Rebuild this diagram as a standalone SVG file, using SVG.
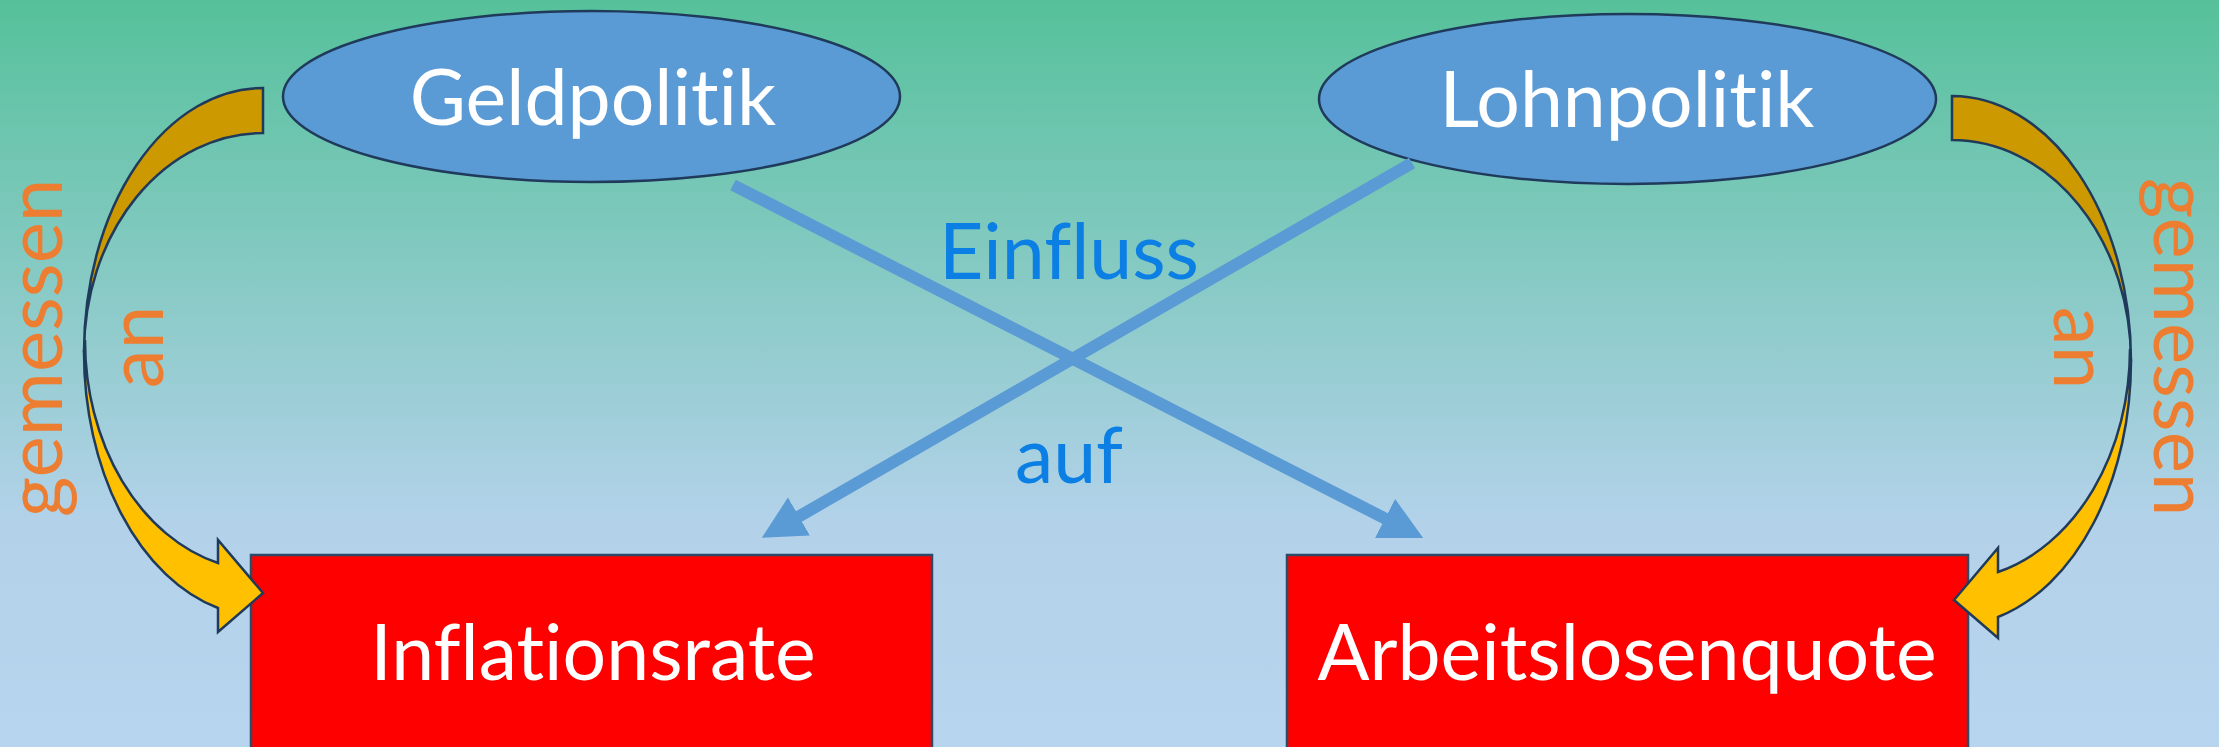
<svg xmlns="http://www.w3.org/2000/svg" width="2219" height="747" viewBox="0 0 2219 747">
  <defs>
    <linearGradient id="bg" x1="0" y1="0" x2="0" y2="1">
      <stop offset="0" stop-color="#55C19A"/>
      <stop offset="0.70" stop-color="#B3D2EA"/>
      <stop offset="1" stop-color="#B7D5EE"/>
    </linearGradient>
    <marker id="ah" markerUnits="userSpaceOnUse" markerWidth="44" markerHeight="44" viewBox="0 0 40 40" refX="1" refY="20" orient="auto">
      <path d="M0,0 L39,20 L0,40 Z" fill="#5B9BD5"/>
    </marker>
  </defs>
  <style>
    text { font-family: Lato, "Open Sans", "Liberation Sans", sans-serif; font-variant-ligatures: none; font-feature-settings: "liga" 0, "clig" 0; text-anchor: middle; }
    .ell { fill: #5B9BD5; stroke: #1F3A5A; stroke-width: 2.5; }
    .box { fill: #FF0000; stroke: #2E4A66; stroke-width: 2.5; }
    .lbl { font-size: 77px; fill: #FFFFFF; }
    .conn { fill: none; stroke: #5B9BD5; stroke-width: 12; stroke-linecap: butt; marker-end: url(#ah); }
    .blue { font-size: 77px; fill: #0B7FE3; }
    .orange { font-size: 78px; fill: #ED7D31; }
    .back { fill: #CC9900; stroke: #1F3A5A; stroke-width: 2.5; stroke-linejoin: miter; }
    .front { fill: #FFC000; stroke: #1F3A5A; stroke-width: 2.5; stroke-linejoin: miter; }
  </style>
  <rect x="0" y="0" width="2219" height="747" fill="url(#bg)"/>

  <g id="label-einfluss">
    <text class="blue" x="1069" y="279">Einfluss</text>
  </g>
  <g id="label-auf">
    <text class="blue" x="1069" y="483">auf</text>
  </g>
  <g id="label-left">
    <text class="orange" transform="translate(62,348) rotate(-90)">gemessen</text>
    <text class="orange" transform="translate(163,347) rotate(-90)">an</text>
  </g>
  <g id="label-right">
    <text class="orange" transform="translate(2154,347) rotate(90)">gemessen</text>
    <text class="orange" transform="translate(2054,348) rotate(90)">an</text>
  </g>

  <g id="node-geldpolitik">
    <ellipse class="ell" cx="591.5" cy="96.5" rx="308.5" ry="85.5"/>
    <text class="lbl" x="593" y="125">Geldpolitik</text>
  </g>
  <g id="node-lohnpolitik">
    <ellipse class="ell" cx="1627.5" cy="99" rx="308.5" ry="85"/>
    <text class="lbl" x="1627" y="127">Lohnpolitik</text>
  </g>
  <g id="node-inflationsrate">
    <rect class="box" x="251" y="555" width="681" height="200"/>
    <text class="lbl" x="593" y="680">Inflationsrate</text>
  </g>
  <g id="node-arbeitslosenquote">
    <rect class="box" x="1287" y="555" width="681" height="200"/>
    <text class="lbl" x="1627" y="680">Arbeitslosenquote</text>
  </g>

  <g id="connectors">
    <line class="conn" x1="733" y1="185" x2="1386" y2="519"/>
    <line class="conn" x1="1412" y1="163" x2="798" y2="517"/>
    <path id="curve-left-back" class="back" d="M263,88 A179,264 0 0 0 84,352 A179,219 0 0 1 263,133 Z"/>
    <path id="curve-left-front" class="front" d="M84,352 A179,264 0 0 0 218,608 L218,632 L263,593 L218,540 L218,563 A178,230 0 0 1 85,340 Z"/>
    <path id="curve-right-back" class="back" d="M1952,96 A179,265 0 0 1 2131,361 A179,221 0 0 0 1952,140 Z"/>
    <path id="curve-right-front" class="front" d="M2131,361 A179,265 0 0 1 1998,617 L1998,638 L1954,600 L1998,548 L1998,572 A178,231 0 0 0 2130,349 Z"/>
  </g>
</svg>
